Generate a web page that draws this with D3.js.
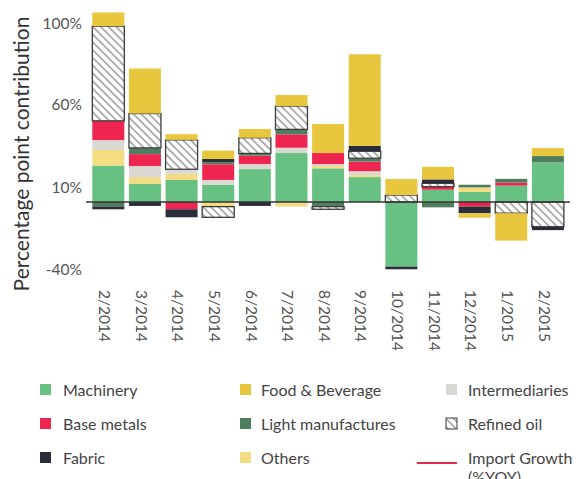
<!DOCTYPE html>
<html>
<head>
<meta charset="utf-8">
<script src="https://cdn.jsdelivr.net/npm/d3@7"></script>
<style>
  html, body { margin: 0; padding: 0; background: #fff; overflow: hidden; }
  svg { display: block; font-family: Lato, "Noto Sans", sans-serif; }
</style>
</head>
<body>
<svg id="chart" width="578" height="479"></svg>
<script>
// ---------------- DATA ----------------
const months = ["2/2014","3/2014","4/2014","5/2014","6/2014","7/2014","8/2014","9/2014","10/2014","11/2014","12/2014","1/2015","2/2015"];

const machinery         = [20.4, 10.1, 12.4,  9.6, 18.5, 27.5, 18.9, 14.0, -36.3,  6.9,  5.6,   9.2,  22.3];
const others            = [ 8.8,  3.8,  3.4, -2.6,  0.0, -2.6,  1.3,  1.1,   0.0,  0.0,  2.6,   0.0,   0.0];
const intermediaries    = [ 5.6,  6.3,  2.6,  2.8,  2.8,  3.0,  1.1,  2.2,   0.0,  0.0,  0.0,   0.0,   0.0];
const baseMetals        = [10.8,  6.7, -4.1,  8.8,  4.7,  7.5,  6.2,  5.4,   0.0,  1.7, -2.6,   1.7,   0.0];
const lightManufactures = [-2.5,  3.5,  0.0,  1.1,  1.3,  2.8, -2.6,  1.9,   0.0, -3.0,  1.5,   2.1,   3.5];
const refinedOil        = [53.2, 19.3, 16.5, -6.0,  8.8, 13.1, -1.5,  3.9,   3.9,  1.9,  0.0,  -6.3, -13.9];
const fabric            = [-1.6, -2.2, -4.5,  1.9, -2.2,  0.0,  0.0,  3.0,  -1.5,  2.2, -3.7,   0.0,  -1.9];
const foodBeverage      = [ 7.7, 25.3,  3.2,  4.7,  4.9,  6.2, 16.3, 51.5,   9.0,  7.1, -2.5, -15.4,   4.5];

const seriesKeys  = ["Machinery","Others","Intermediaries","Base metals","Light manufactures","Refined oil","Fabric","Food & Beverage"];
const seriesVals  = [machinery, others, intermediaries, baseMetals, lightManufactures, refinedOil, fabric, foodBeverage];

const tickValues = [100, 55, 8, -38];
const tickLabels = ["100%", "60%", "10%", "-40%"];

const legendCols = [
  ["Machinery", "Base metals", "Fabric"],
  ["Food & Beverage", "Light manufactures", "Others"],
  ["Intermediaries", "Refined oil", "Import Growth (%YOY)"]
];

// ---------------- STYLE ----------------
const colors = {
  "Machinery": "#66c182",
  "Others": "#f3dc82",
  "Intermediaries": "#d9d8d3",
  "Base metals": "#ee264f",
  "Light manufactures": "#4f7d5f",
  "Refined oil": "url(#hatch)",
  "Fabric": "#2a2d3a",
  "Food & Beverage": "#e8c73f",
  "Import Growth (%YOY)": "#e8274f"
};

const svg = d3.select("#chart");

// hatch pattern
const defs = svg.append("defs");
const pat = defs.append("pattern")
  .attr("id", "hatch")
  .attr("patternUnits", "userSpaceOnUse")
  .attr("width", 5.5).attr("height", 5.5)
  .attr("patternTransform", "rotate(-45)");
pat.append("rect").attr("width", 5.5).attr("height", 5.5).attr("fill", "#fff");
pat.append("line").attr("x1", 2.75).attr("y1", -1).attr("x2", 2.75).attr("y2", 7)
  .attr("stroke", "#555").attr("stroke-width", 0.9);

// ---------------- SCALES ----------------
const x = d3.scaleBand().domain(months).range([90, 566.2]).paddingInner(0.126).paddingOuter(0.063);
const y = d3.scaleLinear().domain([0, 100]).range([202, 24]);

// ---------------- STACK ----------------
const table = months.map((m, i) => {
  const row = { month: m };
  seriesKeys.forEach((k, j) => row[k] = seriesVals[j][i]);
  return row;
});
const stacked = d3.stack().keys(seriesKeys).order(d3.stackOrderNone).offset(d3.stackOffsetDiverging)(table);

const bars = svg.append("g");
stacked.forEach(layer => {
  const key = layer.key;
  bars.append("g")
    .selectAll("rect")
    .data(layer.filter(d => Math.abs(d[1] - d[0]) > 0.001))
    .join("rect")
    .attr("x", d => x(d.data.month))
    .attr("width", x.bandwidth())
    .attr("y", d => y(Math.max(d[0], d[1])))
    .attr("height", d => Math.abs(y(d[0]) - y(d[1])))
    .attr("fill", colors[key])
    .attr("stroke", key === "Refined oil" ? "#3c3c3c" : "none")
    .attr("stroke-width", key === "Refined oil" ? 1.3 : 0);
});

// zero line
svg.append("line")
  .attr("x1", 86).attr("x2", 570)
  .attr("y1", y(0)).attr("y2", y(0))
  .attr("stroke", "#333").attr("stroke-width", 1.5);

// ---------------- AXES ----------------
const yAxis = svg.append("g")
  .attr("transform", "translate(86,0)")
  .call(d3.axisLeft(y).tickValues(tickValues).tickFormat((d, i) => tickLabels[i]).tickSize(0).tickPadding(4));
yAxis.select(".domain").remove();
yAxis.selectAll("text").attr("fill", "#555").style("font-size", "15.5px").style("font-family", "Lato, sans-serif");

const xAxis = svg.append("g")
  .attr("transform", "translate(0,288)")
  .call(d3.axisBottom(x).tickSize(0).tickPadding(0));
xAxis.select(".domain").remove();
xAxis.selectAll("text")
  .attr("transform", "rotate(90)")
  .attr("x", 2).attr("y", 0)
  .attr("dy", "0.6em")
  .attr("text-anchor", "start")
  .attr("fill", "#555")
  .style("font-size", "15.5px")
  .style("font-family", "Lato, sans-serif");

// y title
svg.append("text")
  .attr("transform", "translate(29,154) rotate(-90)")
  .attr("text-anchor", "middle")
  .attr("fill", "#333")
  .style("font-size", "21px")
  .text("Percentage point contribution");

// ---------------- LEGEND ----------------
const colX = [40, 240, 446];
const rowY = [390, 424, 458];
const legend = svg.append("g").style("font-size", "16px").attr("fill", "#444");
legendCols.forEach((col, ci) => {
  col.forEach((name, ri) => {
    const cx = colX[ci], cy = rowY[ri];
    if (name === "Import Growth (%YOY)") {
      legend.append("line")
        .attr("x1", 417).attr("x2", 457).attr("y1", cy + 5).attr("y2", cy + 5)
        .attr("stroke", colors[name]).attr("stroke-width", 2);
      const t = legend.append("text").attr("x", 468).attr("y", cy).attr("dy", "0.35em");
      t.append("tspan").attr("x", 468).text("Import Growth");
      t.append("tspan").attr("x", 468).attr("dy", "1.2em").text("(%YOY)");
    } else {
      legend.append("rect")
        .attr("x", cx).attr("y", cy - 6).attr("width", 11).attr("height", 11)
        .attr("fill", colors[name])
        .attr("stroke", name === "Refined oil" ? "#3c3c3c" : "none")
        .attr("stroke-width", name === "Refined oil" ? 1 : 0);
      legend.append("text").attr("x", [63, 261, 468][ci]).attr("y", cy).attr("dy", "0.35em").text(name);
    }
  });
});
</script>
</body>
</html>
